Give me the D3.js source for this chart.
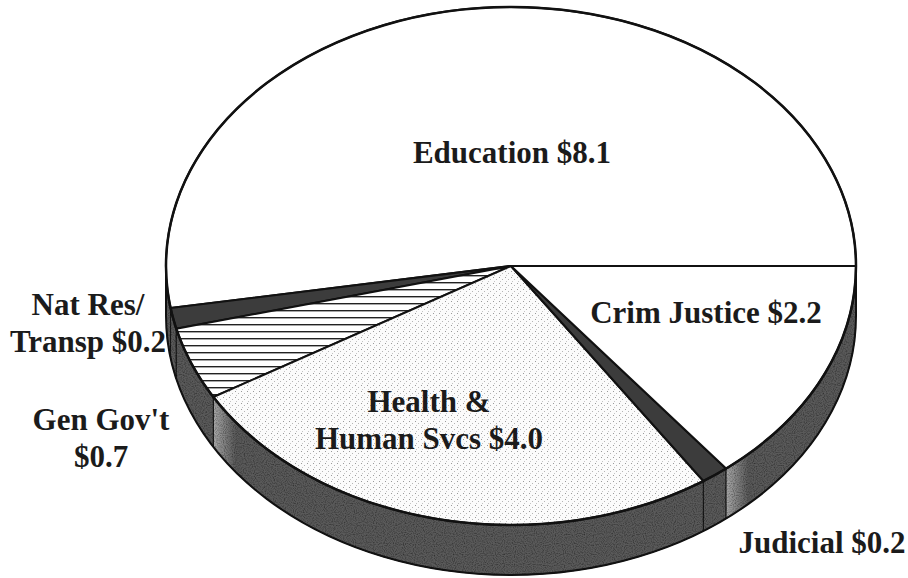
<!DOCTYPE html>
<html>
<head>
<meta charset="utf-8">
<script src="https://cdn.jsdelivr.net/npm/d3@7"></script>
<style>
  body { margin: 0; background: #fff; }
  svg { display: block; }
  .label { font-family: "Liberation Serif", "DejaVu Serif", serif; font-weight: bold; font-size: 31px; fill: #1b1b1b; }
</style>
</head>
<body>
<div id="chart"></div>
<script>
// slices, in drawing order (counter-clockwise from 3 o'clock)
const categories = ["Education", "Nat Res/Transp", "Gen Gov't", "Health & Human Svcs", "Judicial", "Crim Justice"];
const values = [8.1, 0.2, 0.7, 4.0, 0.2, 2.2];
// label text, {v} is replaced by the slice value
const labelText = [["Education {v}"], ["Nat Res/", "Transp {v}"], ["Gen Gov't", "{v}"], ["Health &", "Human Svcs {v}"], ["Judicial {v}"], ["Crim Justice {v}"]];

const width = 908, height = 578;
const cx = 511, cy = 266, rx = 345, ry = 259, depth = 50;

// label anchors (x centre, first baseline)
const labelPos = [[512, 163], [88, 315], [101, 430], [429, 412], [822, 553], [706, 323]];
const lineGap = 37;

const topFill = ["#ffffff", "#3c3c3c", "url(#hatch)", "url(#dots)", "#3c3c3c", "#ffffff"];
const lightStart = [false, false, false, true, false, true];

const svg = d3.select("#chart").append("svg")
    .attr("width", width)
    .attr("height", height);

const defs = svg.append("defs");

// horizontal hatching for Gen Gov't
const hatch = defs.append("pattern")
    .attr("id", "hatch")
    .attr("patternUnits", "userSpaceOnUse")
    .attr("width", 8).attr("height", 7);
hatch.append("rect").attr("width", 8).attr("height", 7).attr("fill", "#fff");
hatch.append("rect").attr("y", 2).attr("width", 8).attr("height", 1.4).attr("fill", "#222");

// sparse stipple for Health
const dots = defs.append("pattern")
    .attr("id", "dots")
    .attr("patternUnits", "userSpaceOnUse")
    .attr("width", 6).attr("height", 6);
dots.append("rect").attr("width", 6).attr("height", 6).attr("fill", "#fbfbfb");
dots.append("rect").attr("x", 1).attr("y", 1).attr("width", 1).attr("height", 1).attr("fill", "#9a9a9a");
dots.append("rect").attr("x", 4).attr("y", 3).attr("width", 1).attr("height", 1).attr("fill", "#b5b5b5");
dots.append("rect").attr("x", 2).attr("y", 5).attr("width", 1).attr("height", 1).attr("fill", "#c4c4c4");

// grain for the side walls
const grain = defs.append("filter").attr("id", "grain").attr("x", 0).attr("y", 0).attr("width", 1).attr("height", 1);
grain.append("feTurbulence").attr("type", "fractalNoise").attr("baseFrequency", 0.9).attr("numOctaves", 1).attr("seed", 3).attr("result", "noise");
grain.append("feColorMatrix").attr("in", "noise").attr("type", "matrix")
    .attr("values", "0 0 0 0 0  0 0 0 0 0  0 0 0 0 0  0 0 0 1.6 -0.65").attr("result", "spots");
grain.append("feComposite").attr("in", "spots").attr("in2", "SourceGraphic").attr("operator", "in").attr("result", "clipped");
const merge = grain.append("feMerge");
merge.append("feMergeNode").attr("in", "SourceGraphic");
merge.append("feMergeNode").attr("in", "clipped");

const pie = d3.pie().sort(null).value(d => d)(values);

const px = t => cx + rx * Math.cos(t);
const py = t => cy - ry * Math.sin(t);

function topPath(d) {
    const a = d.startAngle, b = d.endAngle;
    const large = (b - a) > Math.PI ? 1 : 0;
    return `M${cx},${cy}L${px(a)},${py(a)}A${rx},${ry} 0 ${large} 0 ${px(b)},${py(b)}Z`;
}

function wallPath(d) {
    const a = Math.max(d.startAngle, Math.PI), b = Math.min(d.endAngle, 2 * Math.PI);
    if (b <= a) return null;
    return `M${px(a)},${py(a)}A${rx},${ry} 0 0 0 ${px(b)},${py(b)}` +
        `L${px(b)},${py(b) + depth}A${rx},${ry} 0 0 1 ${px(a)},${py(a) + depth}Z`;
}

// wall gradients: lighter strip at the start of some walls
pie.forEach((d, i) => {
    const a = Math.max(d.startAngle, Math.PI);
    const g = defs.append("linearGradient")
        .attr("id", "wall" + i)
        .attr("gradientUnits", "userSpaceOnUse")
        .attr("x1", px(a)).attr("x2", px(a) + 22)
        .attr("y1", 0).attr("y2", 0);
    g.append("stop").attr("offset", 0).attr("stop-color", lightStart[i] ? "#a8a8a8" : "#5a5a5a");
    g.append("stop").attr("offset", 1).attr("stop-color", "#5a5a5a");
});

const walls = svg.append("g").attr("filter", "url(#grain)");
walls.selectAll("path")
    .data(pie.filter(d => wallPath(d)))
    .join("path")
    .attr("d", wallPath)
    .attr("fill", d => `url(#wall${d.index})`)
    .attr("stroke", "#1a1a1a")
    .attr("stroke-width", 1);

// outer rim of the wall
svg.append("path")
    .attr("d", `M${px(Math.PI)},${py(Math.PI)}L${px(Math.PI)},${py(Math.PI) + depth}` +
        `A${rx},${ry} 0 0 0 ${px(2 * Math.PI)},${py(0) + depth}L${px(0)},${py(0)}`)
    .attr("fill", "none")
    .attr("stroke", "#111")
    .attr("stroke-width", 2);

const tops = svg.append("g");
tops.selectAll("path")
    .data(pie)
    .join("path")
    .attr("d", topPath)
    .attr("fill", (d, i) => topFill[i])
    .attr("stroke", "#111")
    .attr("stroke-width", 2)
    .attr("stroke-linejoin", "round");

svg.append("ellipse")
    .attr("cx", cx).attr("cy", cy)
    .attr("rx", rx).attr("ry", ry)
    .attr("fill", "none")
    .attr("stroke", "#111")
    .attr("stroke-width", 2.5);

// labels
const labels = svg.append("g");
pie.forEach((d, i) => {
    const txt = labels.append("text")
        .attr("class", "label")
        .attr("text-anchor", "middle")
        .attr("x", labelPos[i][0])
        .attr("y", labelPos[i][1]);
    labelText[i].forEach((line, k) => {
        txt.append("tspan")
            .attr("x", labelPos[i][0])
            .attr("dy", k === 0 ? 0 : lineGap)
            .text(line.replace("{v}", "$" + values[i].toFixed(1)));
    });
});
</script>
</body>
</html>
